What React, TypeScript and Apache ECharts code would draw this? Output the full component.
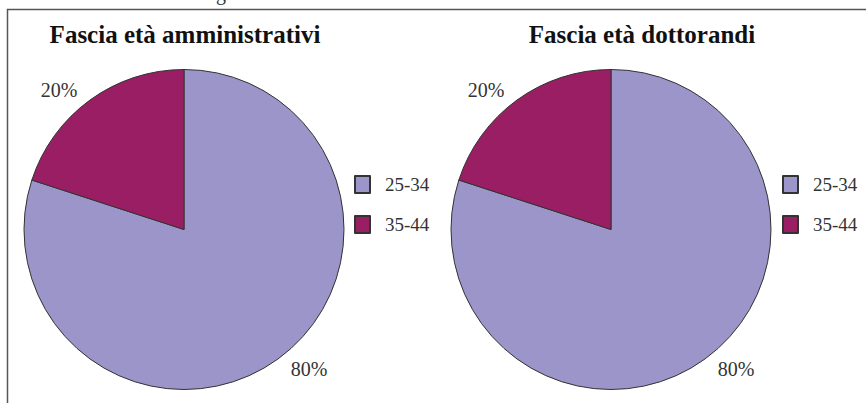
import React, { useEffect, useRef } from "react";
import * as echarts from "echarts";

const categories = ["25-34", "35-44"];
const amministrativi = [80, 20];
const dottorandi = [80, 20];
const titles = ["Fascia età amministrativi", "Fascia età dottorandi"];
const colors = ["#9C95C9", "#991E64"];

const FONT = "Liberation Serif";

export default function App() {
  const ref = useRef<HTMLDivElement>(null);
  useEffect(() => {
    if (!ref.current) return;
    const chart = echarts.init(ref.current, null, { renderer: "svg" });
    const mkSeries = (name: string, vals: number[], cx: number) => ({
      type: "pie",
      name,
      center: [cx, 229.5],
      radius: 160,
      startAngle: 90,
      clockwise: true,
      data: categories.map((c, i) => ({ name: c, value: vals[i] })),
      itemStyle: { borderColor: "#333", borderWidth: 1 },
      label: {
        show: true,
        position: "outside",
        formatter: "{d}%",
        fontFamily: FONT,
        fontSize: 20,
        color: "#333",
      },
      labelLine: { show: false, length: 13, length2: 0 },
      emphasis: { disabled: true },
    });
    const legendBase = {
      orient: "vertical",
      icon: "rect",
      itemWidth: 15,
      itemHeight: 17,
      itemGap: 21,
      data: categories,
      textStyle: { fontFamily: FONT, fontSize: 19, color: "#333", padding: [0, 0, 0, 10] },
    };
    chart.setOption({
      animation: false,
      color: colors,
      textStyle: { fontFamily: FONT },
      title: [
        {
          text: titles[0],
          left: 180,
          top: 17,
          textAlign: "center",
          textStyle: { fontFamily: FONT, fontSize: 25, fontWeight: "bold", color: "#111" },
        },
        {
          text: titles[1],
          left: 637,
          top: 17,
          textAlign: "center",
          textStyle: { fontFamily: FONT, fontSize: 25, fontWeight: "bold", color: "#111" },
        },
      ],
      legend: [
        { ...legendBase, left: 349, top: 170 },
        { ...legendBase, left: 777, top: 170 },
      ],
      graphic: [
        {
          type: "rect",
          shape: { x: 7.5, y: 9.5, width: 900, height: 450 },
          style: { fill: "none", stroke: "#555", lineWidth: 1.5 },
          silent: true,
        },
        {
          type: "text",
          x: 216,
          y: -17,
          style: { text: "g", fontFamily: FONT, fontSize: 20, fill: "#333" },
          silent: true,
        },
      ],
      series: [
        mkSeries("amministrativi", amministrativi, 184),
        mkSeries("dottorandi", dottorandi, 611),
      ],
    });
    return () => chart.dispose();
  }, []);
  return (
    <div
      ref={ref}
      style={{ position: "fixed", left: 0, top: 0, width: 866, height: 403, background: "#fff" }}
    />
  );
}
